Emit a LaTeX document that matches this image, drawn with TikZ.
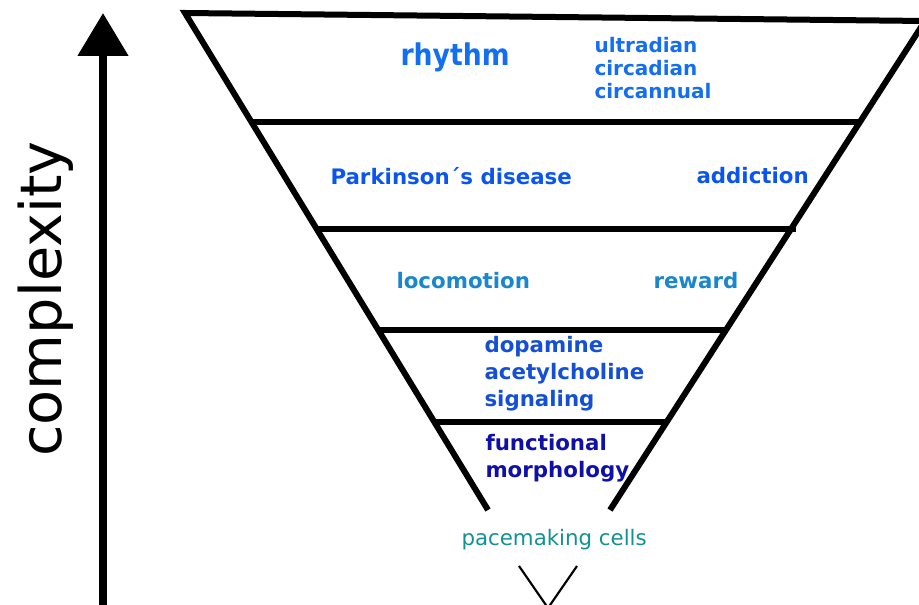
\documentclass[tikz,border=0pt]{standalone}
\usepackage{fontspec}
\setmainfont{DejaVu Sans}
\usetikzlibrary{arrows.meta}

\definecolor{rhythmblue}{RGB}{20,110,240}
\definecolor{diseaseblue}{RGB}{10,85,240}
\definecolor{behaviourblue}{RGB}{25,135,205}
\definecolor{signalblue}{RGB}{20,80,215}
\definecolor{morphblue}{RGB}{15,15,170}
\definecolor{cellteal}{RGB}{20,145,145}

\tikzset{every picture/.style={line width=0.75pt}}
\tikzset{
  level/.style={line width=4.5pt},
  lbl/.style={inner sep=0pt, anchor=west, align=left, font=\bfseries\fontsize{16}{20.25}\selectfont},
}

\begin{document}
\begin{tikzpicture}[x=0.75pt,y=0.75pt,yscale=-1,xscale=1]
\useasboundingbox (0,0) rectangle (919,605);
\clip (0,0) rectangle (919,605);
%Shape: Axis [id:complexity]
\coordinate (axisbot) at (103,610);
\coordinate (axistop) at (103,13);
\draw [line width=6pt, -{Triangle[length=32.25pt, width=36.75pt]}] (axisbot) -- (axistop);
% Text Node
\node (complexity) [rotate=90, inner sep=0pt, font=\fontsize{43}{50}\selectfont] at (46,299) {complexity};
%Shape: Funnel [id:funnel]
\draw [level, line join=miter] (488,510) -- (185,13) -- (925,21) -- (610,510);
%Straight Lines [id:levels]
\draw [level] (253,122) -- (862,122);
\draw [level] (318,229) -- (796,229);
\draw [level] (379,330) -- (727,330);
\draw [level] (435,422) -- (668,422);
%Shape: Tip [id:tip]
\draw [line width=1.6pt] (519,566) -- (548,608) -- (577,566);

% Text Node
\node (rhythm) [lbl, text=rhythmblue, font=\bfseries\fontsize{20}{24}\selectfont, yscale=1.12] at (400,57) {rhythm};
% Text Node
\node (cycles) [lbl, text=rhythmblue, font=\bfseries\fontsize{15}{17.25}\selectfont] at (594,68) {ultradian\\circadian\\circannual};
% Text Node
\node (parkinson) [lbl, text=diseaseblue] at (330,176) {Parkinson´s disease};
% Text Node
\node (addiction) [lbl, text=diseaseblue] at (696,176) {addiction};
% Text Node
\node (locomotion) [lbl, text=behaviourblue] at (396,281) {locomotion};
% Text Node
\node (reward) [lbl, text=behaviourblue] at (653,281) {reward};
% Text Node
\node (signaling) [lbl, text=signalblue] at (484,374) {dopamine\\acetylcholine\\signaling};
% Text Node
\node (morphology) [lbl, text=morphblue] at (485,458) {functional\\morphology};
% Text Node
\node (pacemaking) [inner sep=0pt, anchor=west, text=cellteal, font=\fontsize{16}{19}\selectfont] at (461,540) {pacemaking cells};

\end{tikzpicture}
\end{document}
